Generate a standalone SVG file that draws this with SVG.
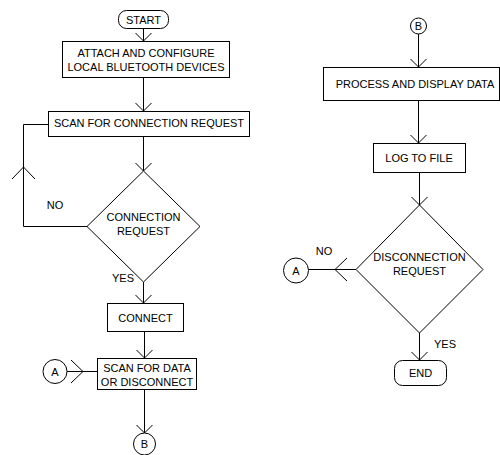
<svg xmlns="http://www.w3.org/2000/svg" width="500" height="455" viewBox="0 0 500 455">
<style>
.s{fill:#fff;stroke:#000;stroke-width:1}
.t{font-family:"Liberation Sans",Arial,sans-serif;font-size:11px;fill:#000;text-anchor:middle}
.c{fill:none;stroke:#000;stroke-width:1}
</style>
<defs>
<marker id="a" markerUnits="userSpaceOnUse" markerWidth="20" markerHeight="20" refX="10" refY="10" orient="auto" viewBox="0 0 20 20" overflow="visible">
<path d="M2,2 L10,10 L2,18" fill="none" stroke="#000" stroke-width="1"/>
</marker>
<marker id="b" markerUnits="userSpaceOnUse" markerWidth="30" markerHeight="30" refX="15" refY="15" orient="auto" viewBox="0 0 30 30" overflow="visible">
<path d="M3,3.5 L15,15 L3,26.5" fill="none" stroke="#000" stroke-width="1"/>
</marker>
</defs>
<rect width="500" height="455" fill="#fff"/>
<g id="connectors">
<path class="c" d="M143.5,28 V41" marker-end="url(#a)"/>
<path class="c" d="M143.5,78 V111" marker-end="url(#a)"/>
<path class="c" d="M143.5,137 V171" marker-end="url(#a)"/>
<path class="c" d="M87,226.5 H23.5 V167" marker-end="url(#b)"/>
<path class="c" d="M23.5,167 V124.5 H48"/>
<path class="c" d="M143.5,282 V303" marker-end="url(#a)"/>
<path class="c" d="M144.5,332 V358" marker-end="url(#a)"/>
<path class="c" d="M67,371.5 H83" marker-end="url(#b)"/>
<path class="c" d="M83,371.5 H97"/>
<path class="c" d="M144.5,390 V433" marker-end="url(#a)"/>
<path class="c" d="M418.5,34 V67" marker-end="url(#a)"/>
<path class="c" d="M418.5,101 V143" marker-end="url(#a)"/>
<path class="c" d="M419.5,173 V205" marker-end="url(#a)"/>
<path class="c" d="M356,269.5 H335" marker-end="url(#b)"/>
<path class="c" d="M335,269.5 H308.5"/>
<path class="c" d="M419.5,333 V360" marker-end="url(#a)"/>
<text class="t" x="55" y="209">NO</text>
<text class="t" x="123" y="282">YES</text>
<text class="t" x="324" y="255">NO</text>
<text class="t" x="445" y="348">YES</text>
</g>
<g id="start">
<rect class="s" x="118.5" y="10.5" width="50" height="18" rx="8"/>
<text class="t" x="143.5" y="23.5">START</text>
</g>
<g id="attach">
<rect class="s" x="62.5" y="41.5" width="167" height="36"/>
<text class="t" x="146" y="57">ATTACH AND CONFIGURE</text>
<text class="t" x="146" y="70.5">LOCAL BLUETOOTH DEVICES</text>
</g>
<g id="scanconn">
<rect class="s" x="48.5" y="111.5" width="201" height="25"/>
<text class="t" x="149" y="127">SCAN FOR CONNECTION REQUEST</text>
</g>
<g id="connreq">
<path class="s" d="M143.5,171 L200,226.5 L143.5,282 L87,226.5 Z"/>
<text class="t" x="143.5" y="221">CONNECTION</text>
<text class="t" x="143.5" y="235">REQUEST</text>
</g>
<g id="connect">
<rect class="s" x="107.5" y="303.5" width="76" height="28"/>
<text class="t" x="145.5" y="322">CONNECT</text>
</g>
<g id="scandata">
<rect class="s" x="97.5" y="358.5" width="99" height="31"/>
<text class="t" x="147" y="372">SCAN FOR DATA</text>
<text class="t" x="147" y="386">OR DISCONNECT</text>
</g>
<g id="connA1">
<circle class="s" cx="55" cy="371.5" r="12"/>
<text class="t" x="55" y="375.5">A</text>
</g>
<g id="connB1">
<circle class="s" cx="144.5" cy="444" r="11"/>
<text class="t" x="144.5" y="448">B</text>
</g>
<g id="connB2">
<circle class="s" cx="418.5" cy="26" r="8"/>
<text class="t" x="418.5" y="30">B</text>
</g>
<g id="process">
<rect class="s" x="323.5" y="67.5" width="176" height="33"/>
<text class="t" x="415" y="88">PROCESS AND DISPLAY DATA</text>
</g>
<g id="log">
<rect class="s" x="373.5" y="143.5" width="92" height="29"/>
<text class="t" x="419" y="162">LOG TO FILE</text>
</g>
<g id="discreq">
<path class="s" d="M419.5,205 L483,269.5 L419.5,333 L356,269.5 Z"/>
<text class="t" x="419.5" y="261">DISCONNECTION</text>
<text class="t" x="419.5" y="275">REQUEST</text>
</g>
<g id="connA2">
<circle class="s" cx="296" cy="270.5" r="12.5"/>
<text class="t" x="296" y="274.5">A</text>
</g>
<g id="end">
<rect class="s" x="394.5" y="360.5" width="52" height="25" rx="8"/>
<text class="t" x="420.5" y="377">END</text>
</g>
</svg>
